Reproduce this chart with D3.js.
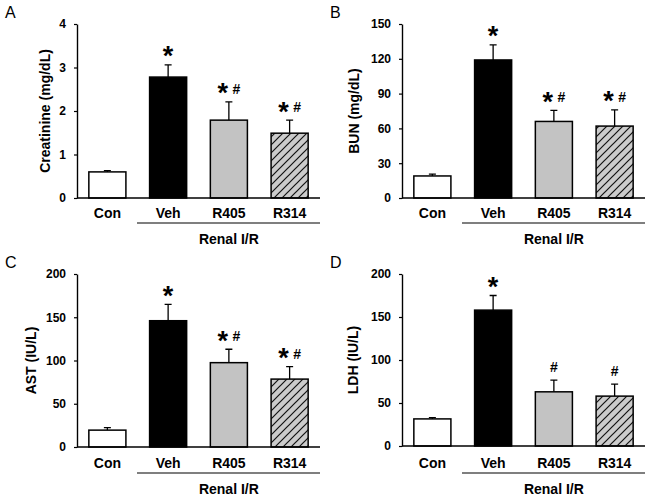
<!DOCTYPE html>
<html><head><meta charset="utf-8">
<script src="https://cdn.jsdelivr.net/npm/d3@7"></script>
<style>
html,body{margin:0;padding:0;background:#fff;}
svg{display:block;font-family:Arial,"Liberation Sans",sans-serif;}
</style></head>
<body><svg id="chart" width="649" height="496"></svg>
<script>
const categories = ["Con", "Veh", "R405", "R314"];
const groupLabel = "Renal I/R";

const creatinineMean = [0.6, 2.78, 1.79, 1.49];
const creatinineErr  = [0.03, 0.28, 0.42, 0.30];
const creatinineTicks = [0, 1, 2, 3, 4];

const bunMean = [19, 119, 66, 62];
const bunErr  = [1.5, 13, 9.5, 14];
const bunTicks = [0, 30, 60, 90, 120, 150];

const astMean = [19.5, 146, 97.5, 78.5];
const astErr  = [3, 19, 15.5, 14.5];
const astTicks = [0, 50, 100, 150, 200];

const ldhMean = [31.5, 158, 63, 58];
const ldhErr  = [1.5, 17, 13.5, 14];
const ldhTicks = [0, 50, 100, 150, 200];

const creatinineMarks = ["", "*", "*#", "*#"];
const bunMarks = ["", "*", "*#", "*#"];
const astMarks = ["", "*", "*#", "*#"];
const ldhMarks = ["", "*", "#", "#"];

const svg = d3.select("#chart");
const defs = svg.append("defs");
const pat = defs.append("pattern").attr("id", "hatch")
  .attr("patternUnits", "userSpaceOnUse").attr("width", 8).attr("height", 8);
pat.append("rect").attr("width", 8).attr("height", 8).attr("fill", "#cbcbcb");
pat.append("path").attr("d", "M0,8 L8,0 M-2,2 L2,-2 M6,10 L10,6")
  .attr("stroke", "#111").attr("stroke-width", 1.2);

const fills = ["#ffffff", "#000000", "#c3c3c3", "url(#hatch)"];

const panels = [
  {letter: "A", title: "Creatinine (mg/dL)", mean: creatinineMean, err: creatinineErr, ticks: creatinineTicks, marks: creatinineMarks, ox: 0, oy: 0, bottom: 198, titleX: 50},
  {letter: "B", title: "BUN (mg/dL)", mean: bunMean, err: bunErr, ticks: bunTicks, marks: bunMarks, ox: 325, oy: 0, bottom: 198, titleX: 34},
  {letter: "C", title: "AST (IU/L)", mean: astMean, err: astErr, ticks: astTicks, marks: astMarks, ox: 0, oy: 250, bottom: 197, titleX: 36},
  {letter: "D", title: "LDH (IU/L)", mean: ldhMean, err: ldhErr, ticks: ldhTicks, marks: ldhMarks, ox: 325, oy: 250, bottom: 196, titleX: 33}
];

panels.forEach(p => {
  const g = svg.append("g").attr("transform", `translate(${p.ox},${p.oy})`);
  const left = 77, right = 320, top = 24, bottom = p.bottom;
  const x = d3.scaleBand().domain(categories).range([left, right])
    .paddingInner(0.39).paddingOuter(0.195);
  const y = d3.scaleLinear().domain([p.ticks[0], p.ticks[p.ticks.length - 1]]).range([bottom, top]);

  g.append("text").attr("x", 5).attr("y", 18).attr("font-size", 16)
    .attr("font-weight", 500).attr("fill", "#000").text(p.letter);

  const ya = g.append("g").attr("transform", `translate(${left},0)`)
    .call(d3.axisLeft(y).tickValues(p.ticks).tickFormat(d3.format("d"))
      .tickSize(3).tickPadding(8).tickSizeOuter(0));
  ya.select(".domain").attr("stroke", "#000").attr("stroke-width", 1.4);
  ya.selectAll(".tick line").attr("stroke", "#000").attr("stroke-width", 1.2);
  ya.selectAll(".tick text").attr("font-size", 12).attr("font-weight", "bold")
    .attr("font-family", "Arial, 'Liberation Sans', sans-serif").attr("fill", "#000");

  g.append("text")
    .attr("transform", `translate(${p.titleX},${(top + bottom) / 2}) rotate(-90)`)
    .attr("text-anchor", "middle").attr("font-size", 14).attr("font-weight", "bold")
    .text(p.title);

  const rows = categories.map((c, i) => ({c, i, v: p.mean[i], e: p.err[i], m: p.marks[i]}));

  g.selectAll(".eb").data(rows).enter().append("path")
    .attr("d", d => {
      const cx = x(d.c) + x.bandwidth() / 2;
      return `M${cx},${y(d.v)} V${y(d.v + d.e)} M${cx - 3.5},${y(d.v + d.e)} H${cx + 3.5}`;
    })
    .attr("stroke", "#000").attr("stroke-width", 1.3).attr("fill", "none");

  g.selectAll(".bar").data(rows).enter().append("rect")
    .attr("x", d => x(d.c)).attr("width", x.bandwidth())
    .attr("y", d => y(d.v)).attr("height", d => y(0) - y(d.v))
    .attr("fill", d => fills[d.i]).attr("stroke", "#000").attr("stroke-width", 1.5);

  g.append("line").attr("x1", left).attr("x2", right).attr("y1", y(0)).attr("y2", y(0))
    .attr("stroke", "#000").attr("stroke-width", 1.4);

  g.selectAll(".cl").data(rows).enter().append("text")
    .attr("x", d => x(d.c) + x.bandwidth() / 2).attr("y", 218)
    .attr("text-anchor", "middle").attr("font-size", 14).attr("font-weight", "bold")
    .text(d => d.c);

  g.append("line").attr("x1", 137).attr("x2", right).attr("y1", 223).attr("y2", 223)
    .attr("stroke", "#000").attr("stroke-width", 1.2);
  g.append("text").attr("x", (x("Veh") + x("R314") + x.bandwidth()) / 2).attr("y", 244)
    .attr("text-anchor", "middle").attr("font-size", 14).attr("font-weight", "bold")
    .text(groupLabel);

  rows.forEach(d => {
    if (!d.m) return;
    const cx = x(d.c) + x.bandwidth() / 2;
    const cy = y(d.v + d.e) - 13;
    const hasStar = d.m.includes("*"), hasHash = d.m.includes("#");
    if (hasStar) {
      g.append("text").attr("x", hasHash ? cx - 6 : cx).attr("y", cy + 13.5)
        .attr("text-anchor", "middle").attr("font-size", 27).attr("font-weight", "bold")
        .text("*");
    }
    if (hasHash) {
      g.append("text").attr("x", hasStar ? cx + 7.5 : cx).attr("y", cy + 5)
        .attr("text-anchor", "middle").attr("font-size", 14).attr("font-weight", "bold")
        .text("#");
    }
  });
});
</script></body></html>
